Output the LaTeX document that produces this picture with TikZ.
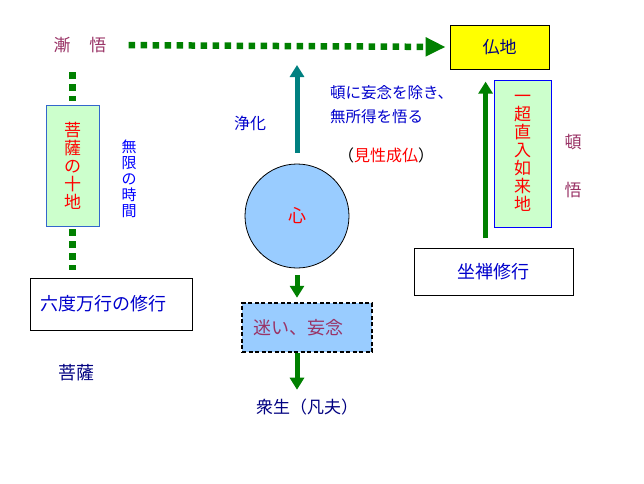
\documentclass[tikz,border=0pt]{standalone}
\usepackage{fontspec}
\setmainfont{Noto Sans CJK JP}
\usetikzlibrary{arrows.meta}
\definecolor{zengreen}{HTML}{008000}
\definecolor{mindteal}{HTML}{008080}
\definecolor{gopurple}{HTML}{993366}
\definecolor{textblue}{HTML}{0000CC}
\definecolor{navyblue}{HTML}{000080}
\definecolor{paleblue}{HTML}{99CCFF}
\definecolor{palegreen}{HTML}{CCFFCC}
\definecolor{budyellow}{HTML}{FFFF00}
\definecolor{boxblue}{HTML}{3366CC}

\begin{document}
\begin{tikzpicture}[
    x=1pt, y=-1pt,
    jp/.style={inner sep=0pt, font=\fontsize{16}{18}\selectfont},
    plainbox/.style={draw=black, line width=0.8pt, fill=white, inner sep=0pt},
    tallbox/.style={draw=boxblue, line width=0.8pt, fill=palegreen, inner sep=0pt,
        align=center, text=red, font=\fontsize{17}{18}\selectfont},
    dotline/.style={zengreen, line width=6.5pt, dash pattern=on 6.5pt off 5.5pt},
    greenarrow/.style={zengreen, line width=5pt, -{Triangle[length=12pt, width=14pt]}},
    tealarrow/.style={mindteal, line width=5pt, -{Triangle[length=12pt, width=14pt]}},
]
\useasboundingbox (0,0) rectangle (644,483);

% =============================================
% TOP – gradual path and the Buddha ground
% =============================================
\node[jp, text=gopurple, font=\fontsize{17}{18}\selectfont] (zengo) at (80,45) {漸\hspace{19pt}悟};
\node[draw=black, line width=0.8pt, fill=budyellow, minimum width=99pt, minimum height=44pt,
      jp, font=\fontsize{17}{18}\selectfont, text=navyblue] (butsuchi) at (499.5,47) {仏地};

\draw[dotline, -{Triangle[length=20pt, width=18pt]}, shorten <=22pt, shorten >=4pt]
    (zengo.east) -- (butsuchi.west);

% =============================================
% LEFT – bodhisattva stages
% =============================================
\coordinate (zentop) at (72.5,72);
\node[tallbox, minimum width=53pt, minimum height=121pt] (juji) at (72.5,165.5)
    {菩\\薩\\の\\十\\地};
\node[jp, text=blue, align=center, font=\fontsize{15}{16}\selectfont] (mugen) at (129,179)
    {無\\限\\の\\時\\間};
\node[plainbox, minimum width=162pt, minimum height=52pt, jp,
      font=\fontsize{18}{20}\selectfont, text=textblue] (rokudo) at (111,304)
    {\hspace{-16pt}六度万行の修行};
\node[jp, font=\fontsize{18}{20}\selectfont, text=navyblue] (bosatsu) at (76,373) {菩薩};

\draw[dotline, shorten >=4pt] (zentop) -- (juji.north);
\draw[dotline, shorten <=3pt, shorten >=8pt] (juji.south) -- (juji.south |- rokudo.north);

% =============================================
% CENTRE – the mind
% =============================================
\node[circle, draw=black, line width=0.8pt, fill=paleblue, minimum size=104pt, inner sep=0pt,
      jp, font=\fontsize{18}{20}\selectfont, text=red] (kokoro) at (297,216) {心};
\coordinate (purtip) at (297,65);
\node[jp, text=textblue] (jouka) at (250,123) {浄化};
\node[jp, text=textblue, anchor=west, align=left, font=\fontsize{15.5}{24}\selectfont] (tonnen) at (330,105)
    {頓に妄念を除き、\\無所得を悟る};
\node[jp] (kensho) at (386,155) {（\textcolor{red}{見性成仏}）};

\node[draw=black, line width=2.5pt, dash pattern=on 4pt off 2.5pt, fill=paleblue,
      minimum width=130pt, minimum height=49pt, inner sep=0pt,
      jp, font=\fontsize{18}{20}\selectfont, text=gopurple] (mayoi) at (307,327.5)
    {\hspace{-18pt}迷い、妄念};
\node[jp, text=navyblue, font=\fontsize{17}{18}\selectfont] (shujou) at (307,407) {衆生（凡夫）};

\draw[tealarrow, shorten <=11pt] (kokoro.north) -- (purtip);
\draw[greenarrow, shorten <=7pt, shorten >=4pt] (kokoro.south) -- (kokoro.south |- mayoi.north);
\draw[greenarrow, shorten >=9pt] (kokoro.south |- mayoi.south) -- (kokoro.south |- shujou.north);

% =============================================
% RIGHT – sudden path
% =============================================
\node[tallbox, draw=blue, minimum width=57pt, minimum height=147pt] (ichicho) at (522.5,153.5)
    {一\\超\\直\\入\\如\\来\\地};
\node[jp, text=gopurple, font=\fontsize{17}{18}\selectfont] (tonchar) at (573,142) {頓};
\node[jp, text=gopurple, font=\fontsize{17}{18}\selectfont] (gochar) at (573,190) {悟};
\node[plainbox, minimum width=159pt, minimum height=47pt, jp,
      font=\fontsize{18}{20}\selectfont, text=textblue] (zazen) at (493.5,271.5) {坐禅修行};

\draw[greenarrow] ([xshift=-8pt, yshift=-11pt]ichicho.south west) -- ([xshift=-8pt, yshift=-2pt]ichicho.north west);

\end{tikzpicture}
\end{document}
